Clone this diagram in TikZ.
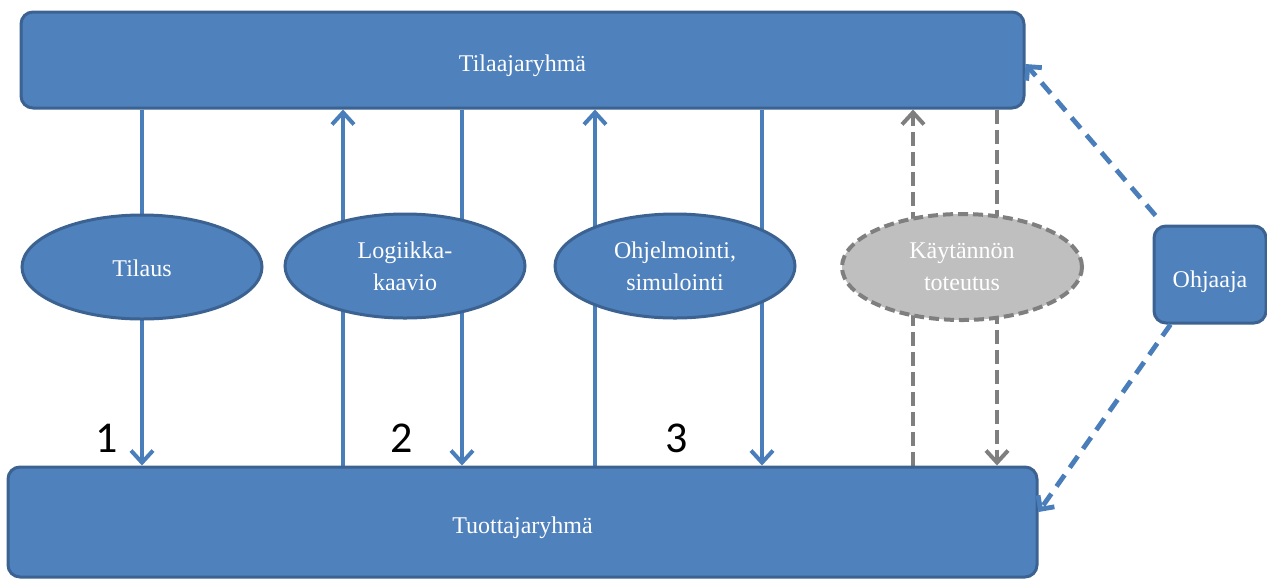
\documentclass[tikz,border=0pt]{standalone}
\usepackage{fontspec}
\setmainfont{Liberation Serif}
\newfontfamily\numfont{Carlito}
\usetikzlibrary{arrows.meta,shapes.geometric,calc}
\definecolor{boxblue}{HTML}{4F81BD}
\definecolor{boxedge}{HTML}{3B6290}
\definecolor{lineblue}{HTML}{4A7EBB}
\definecolor{ggray}{HTML}{BFBFBF}
\definecolor{gedge}{HTML}{7F7F7F}
\pgfdeclarelayer{bg}
\pgfsetlayers{bg,main}
\newcommand{\lowtxt}[2]{\raisebox{#1}[0pt][0pt]{#2}}
\begin{document}
\begin{tikzpicture}[x=0.5pt,y=-0.5pt,
  lbl/.style={text=white,font=\fontsize{12}{16}\selectfont,align=center},
  bluebox/.style={lbl,draw=boxedge,line width=1.5pt,fill=boxblue,rounded corners=6pt,inner sep=0pt},
  blueell/.style={lbl,ellipse,draw=boxedge,line width=1.5pt,fill=boxblue,inner sep=0pt,minimum width=120pt,minimum height=52pt},
  grayell/.style={lbl,ellipse,draw=gedge,line width=2pt,dash pattern=on 5pt off 2.5pt,fill=ggray,inner sep=0pt,minimum width=120pt,minimum height=53pt},
  arr/.style={draw=lineblue,line width=2pt,-{Straight Barb[length=6pt,width=11pt]}},
  garr/.style={draw=gedge,line width=2pt,dash pattern=on 7pt off 3pt,-{Straight Barb[length=6pt,width=11pt]}},
  darr/.style={draw=lineblue,line width=2.4pt,dash pattern=on 7pt off 4.5pt,-{Straight Barb[length=5pt,width=10pt]}},
  num/.style={text=black,font=\numfont\fontsize{22}{22}\selectfont}]
\useasboundingbox (0,0) rectangle (1267,579);

\node[bluebox,minimum width=501.5pt,minimum height=48pt] (top) at (522.5,60) {\lowtxt{-5.5pt}{Tilaajaryhmä}};
\node[bluebox,minimum width=514.5pt,minimum height=55pt] (bot) at (522.5,522) {\lowtxt{-5.5pt}{Tuottajaryhmä}};
\node[bluebox,minimum width=56pt,minimum height=48.5pt] (ohj) at (1210,274.5) {\lowtxt{-6.5pt}{Ohjaaja}};

\node[blueell] (tilaus) at (142,267) {\lowtxt{-4.5pt}{Tilaus}};
\node[blueell] (logiikka) at (405,266) {Logiikka-\\kaavio};
\node[blueell] (ohjelm) at (675,266) {Ohjelmointi,\\simulointi};
\node[grayell] (kayt) at (962,267) {Käytännön\\toteutus};

\node[num] (n1) at (107,438) {1};
\node[num] (n2) at (402,438) {2};
\node[num] (n3) at (677,438) {3};

\coordinate (a1) at (tilaus.center);
\coordinate (a2) at ($(logiikka.center)+(-62,0)$);
\coordinate (a3) at ($(logiikka.center)+(57,0)$);
\coordinate (a4) at ($(ohjelm.center)+(-80,0)$);
\coordinate (a5) at ($(ohjelm.center)+(87,0)$);
\coordinate (a6) at ($(kayt.center)+(-49,0)$);
\coordinate (a7) at ($(kayt.center)+(35,0)$);

\begin{pgfonlayer}{bg}
\draw[arr] (a1 |- top.south) -- (a1 |- bot.north);
\draw[arr] (a2 |- bot.north) -- (a2 |- top.south);
\draw[arr] (a3 |- top.south) -- (a3 |- bot.north);
\draw[arr] (a4 |- bot.north) -- (a4 |- top.south);
\draw[arr] (a5 |- top.south) -- (a5 |- bot.north);
\draw[garr] (a6 |- bot.north) -- (a6 |- top.south);
\draw[garr] (a7 |- top.south) -- (a7 |- bot.north);
\end{pgfonlayer}

\draw[darr] ([xshift=1.5pt,yshift=4.5pt]ohj.north west) -- ([yshift=-2pt]top.east);
\draw[darr] ([xshift=9pt]ohj.south west) -- ([yshift=5pt]bot.east);
\end{tikzpicture}
\end{document}
